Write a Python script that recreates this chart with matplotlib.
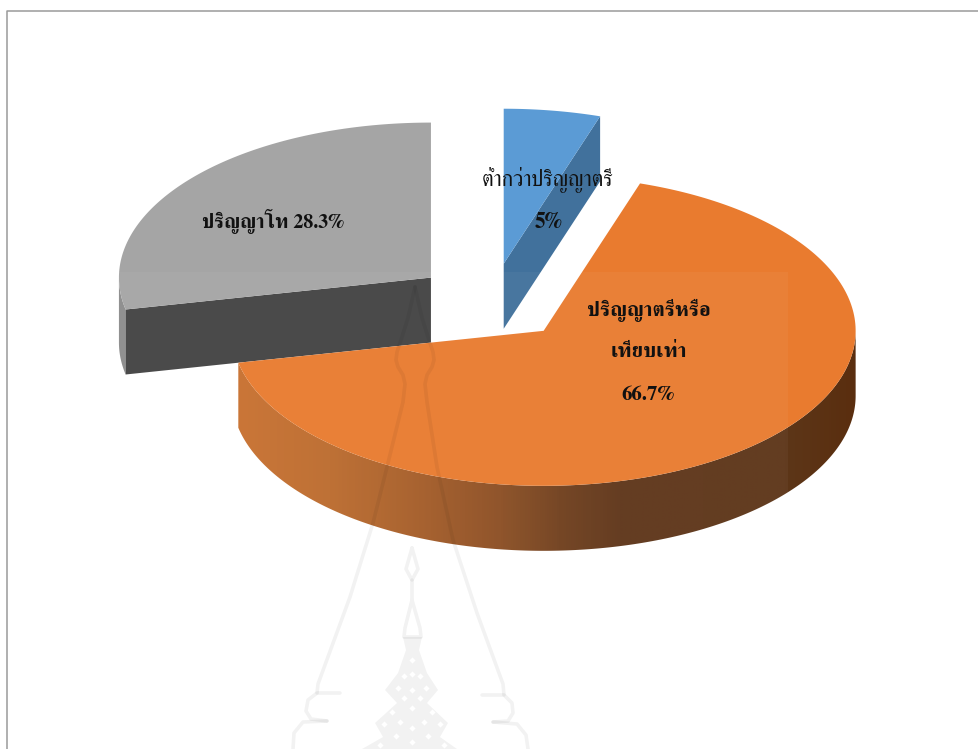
import numpy as np
import matplotlib
matplotlib.use('Agg')
import matplotlib.pyplot as plt
from matplotlib.colors import LinearSegmentedColormap, to_rgb
from matplotlib.patches import Polygon, Rectangle

# share of respondents by education level
categories = ['ต่ำกว่าปริญญาตรี', 'ปริญญาตรีหรือเทียบเท่า', 'ปริญญาโท']
values = [5, 66.7, 28.3]

W, H = 979, 749
CX, CY = 491.5, 302     # pie centre on the canvas
RX, RY = 312, 155       # tilted ellipse radii
DEPTH = 65
EXPLODE = 0.25
FONT = ['FreeSerif', 'Liberation Serif']

TOP_COLORS = ['#5b9bd5', '#e97b2f', '#a5a5a5']
FACE_COLORS = ['#41719c', None, '#434343']

# shading along the orange rim, left to right (x, colour)
RIM_STOPS = [(238, '#c87130'), (330, '#bc6c2e'), (430, '#a25b28'), (500, '#8c4f24'),
             (560, '#71401e'), (620, '#5f361a'), (788, '#5d3618'), (856, '#5a2e0f')]

# faint emblem behind the chart, outlines in canvas pixels
EMBLEM_LEFT = [(415, 287), (408, 318), (401, 340), (397, 352), (396, 360), (398, 367), (403, 375),
               (405, 384), (403, 402), (387, 467), (373, 523), (350, 597), (318, 684), (317, 693)]
EMBLEM_RIGHT = [(415, 287), (422, 318), (429, 340), (433, 352), (434, 360), (432, 367), (427, 375),
                (425, 384), (427, 402), (437, 467), (453, 540), (477, 613), (503, 684), (504, 695)]
FOOT_LINES = [[(340, 693), (317, 693), (308, 700), (306, 711), (311, 719), (327, 721)],
              [(327, 721), (303, 722), (294, 733), (293, 749)],
              [(482, 695), (504, 695), (512, 703), (513, 713), (508, 721), (493, 722)],
              [(493, 722), (517, 724), (526, 735), (528, 749)]]
SPIRE_TOP = [(412, 548), (406, 569), (412, 580), (418, 569), (412, 548)]
SPIRE_NECK = [(412, 580), (412, 600), (405, 628), (404, 637), (421, 637), (420, 628), (412, 600)]
SPIRE_BODY = [(403, 637), (422, 637), (419, 650), (427, 673), (438, 690), (427, 703), (448, 723),
              (440, 737), (457, 749), (362, 749), (383, 737), (375, 723), (397, 703), (385, 690),
              (398, 673), (406, 650)]
LATTICE = [(412, 660), (404, 676), (412, 674), (420, 676), (398, 688), (412, 690), (426, 688),
           (404, 698), (420, 698), (412, 708), (392, 712), (432, 712), (384, 724), (400, 722),
           (424, 722), (440, 724), (412, 728), (396, 736), (428, 736), (412, 742), (380, 745),
           (444, 745)]
EMBLEM_GREY = (0, 0, 0, 0.05)


def point(theta, cx, cy, dz=0):
    """Point on the rim, angle measured clockwise from the back of the pie"""
    return np.column_stack([cx + RX * np.sin(theta), cy - RY * np.cos(theta) + dz])


def draw_slice(ax, start, end, top, face):
    mid = (start + end) / 2
    cx = CX + EXPLODE * RX * np.sin(mid)
    cy = CY - EXPLODE * RY * np.cos(mid)
    arc = point(np.linspace(start, end, 240), cx, cy)

    # cut faces: the end edge shows when sin > 0, the start edge when sin < 0
    if face:
        for edge, sign in ((start, -1), (end, 1)):
            if sign * np.sin(edge) > 0.01:
                corner = point(np.array([edge]), cx, cy)[0]
                ax.add_patch(Polygon([(cx, cy), corner, corner + (0, DEPTH), (cx, cy + DEPTH)],
                                     fc=face, ec='none', zorder=2))

    # outer wall on the front half only
    lo, hi = max(start, np.pi / 2), min(end, 3 * np.pi / 2)
    if hi > lo:
        t = np.linspace(lo, hi, 240)
        draw_rim(ax, np.vstack([point(t, cx, cy), point(t[::-1], cx, cy, DEPTH)]), face)

    ax.add_patch(Polygon(np.vstack([[[cx, cy]], arc]), fc=top, ec='none', zorder=3))


def draw_rim(ax, outline, face):
    if face is None:
        xs = [s[0] for s in RIM_STOPS]
        pos = [(x - xs[0]) / (xs[-1] - xs[0]) for x in xs]
        cmap = LinearSegmentedColormap.from_list(
            'rim', [(p, to_rgb(s[1])) for p, s in zip(pos, RIM_STOPS)])
        img = ax.imshow(np.linspace(0, 1, 620).reshape(1, -1), cmap=cmap, aspect='auto',
                        extent=(xs[0], xs[-1], outline[:, 1].max(), outline[:, 1].min()), zorder=2)
        clip = Polygon(outline, fc='none', ec='none', transform=ax.transData)
        ax.add_patch(clip)
        img.set_clip_path(clip)
    else:
        ax.add_patch(Polygon(outline, fc='#8c8c8c', ec='none', zorder=1.5))


def draw_emblem(ax):
    for pts in [EMBLEM_LEFT, EMBLEM_RIGHT] + FOOT_LINES + [SPIRE_TOP, SPIRE_NECK]:
        xy = np.array(pts)
        ax.plot(xy[:, 0], xy[:, 1], color=EMBLEM_GREY, lw=2.6, solid_joinstyle='round',
                solid_capstyle='round', zorder=6)
    ax.add_patch(Polygon(SPIRE_BODY, fc=EMBLEM_GREY, ec='none', zorder=6))
    holes = np.array(LATTICE)
    ax.scatter(holes[:, 0], holes[:, 1], marker='D', s=10, color='white', linewidths=0, zorder=7)


fig = plt.figure(figsize=(W / 100, H / 100), dpi=100)
ax = fig.add_axes([0, 0, 1, 1])

# slices go clockwise from the back, the big one is painted last so it overlaps
angles = np.cumsum([0] + values) / sum(values) * 2 * np.pi
for i in [2, 0, 1]:
    draw_slice(ax, angles[i], angles[i + 1], TOP_COLORS[i], FACE_COLORS[i])

# pale overlay band and frame
ax.add_patch(Rectangle((60, 272), 728, H - 272, fc='white', alpha=0.04, ec='none', zorder=5))
draw_emblem(ax)
ax.plot([7.5, 7.5, W], [H, 10.5, 10.5], color='#9a9a9a', lw=1.1, zorder=8)

ax.set_xlim(0, W)
ax.set_ylim(H, 0)
ax.axis('off')

# data labels
label_style = dict(family=FONT, ha='center', va='center', color='#111111', zorder=9)
ax.text(548, 180, categories[0], fontsize=15.5, **label_style)
ax.text(549, 223, f'{values[0]}%', fontsize=15.5, weight='bold', **label_style)
ax.text(273, 221, f'{categories[2]} {values[2]}%', fontsize=14.3, weight='bold', **label_style)
ax.text(649, 310, categories[1][:13], fontsize=15, weight='bold', **label_style)
ax.text(649, 352, categories[1][13:], fontsize=15, weight='bold', **label_style)
ax.text(648, 395, f'{values[1]}%', fontsize=15, weight='bold', **label_style)

fig.savefig('out.png', dpi=100)
